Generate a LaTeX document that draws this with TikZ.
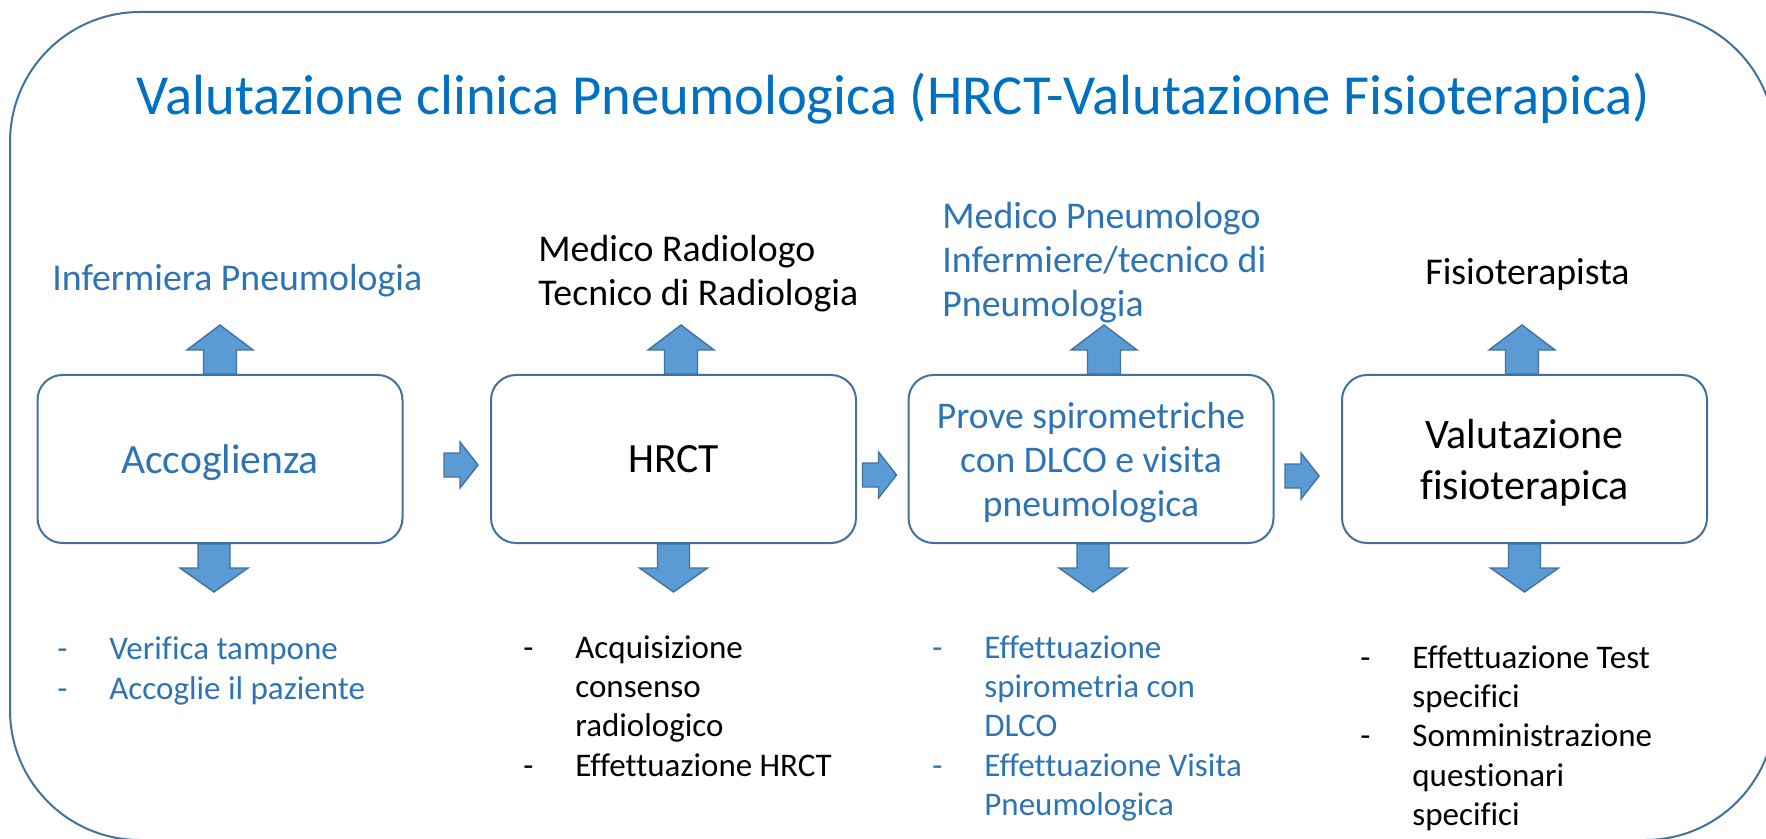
\documentclass[tikz,border=0pt]{standalone}
\usepackage{fontspec}
\setmainfont{Carlito}[Ligatures={NoCommon}]
\usetikzlibrary{calc}
\definecolor{frameC}{HTML}{41719C}
\definecolor{arrowF}{HTML}{5B9BD5}
\definecolor{titleC}{HTML}{0070C0}
\definecolor{txtB}{HTML}{2E74B5}
\newcommand\itm{\makebox[26pt][l]{-}}
\newcommand\cnt{\hspace*{26pt}}
\newcommand\blkup[1]{\draw[blk] #1 ++(-16.5,0) -- ++(0,-24) -- ++(-16.5,0) -- ++(33,-25) -- ++(33,25) -- ++(-16.5,0) -- ++(0,24) -- cycle;}
\newcommand\blkdown[1]{\draw[blk] #1 ++(-16,0) -- ++(0,24) -- ++(-18,0) -- ++(34,24) -- ++(34,-24) -- ++(-18,0) -- ++(0,-24) -- cycle;}
\newcommand\blkright[1]{\draw[blk] #1 -- ++(-18,-23) -- ++(0,11) -- ++(-16,0) -- ++(0,24) -- ++(16,0) -- ++(0,11) -- cycle;}
\begin{document}
\begin{tikzpicture}[x=0.5pt,y=-0.5pt,
  box/.style={draw=frameC, line width=1pt, rounded corners=12.5pt, minimum width=182.5pt, minimum height=84pt, inner sep=0pt, align=center, fill=white, text depth=0pt},
  blk/.style={draw=frameC, fill=arrowF, line width=0.7pt, line join=miter},
  lbl/.style={anchor=base west, inner sep=0pt, align=left, font=\fontsize{18.9}{22}\selectfont},
  lst/.style={anchor=base west, inner sep=0pt, text width=200pt, align=flush left, font=\fontsize{16.5}{19.7}\selectfont},
]
\useasboundingbox (0,0) rectangle (1766,839);
\clip (0,0) rectangle (1766,839);
\draw[frameC, line width=1pt, rounded corners=65pt] (10,12) rectangle (1775,840);

\node[anchor=base, text=titleC, font=\fontsize{28.3}{34}\selectfont, inner sep=0pt] (title) at (893.5,115) {Valutazione clinica Pneumologica (HRCT-Valutazione Fisioterapica)};

\node[box, text=txtB, font=\fontsize{20.8}{25}\selectfont] (b1) at (220,459) {Accoglienza};
\node[box, font=\fontsize{20.8}{25}\selectfont] (b2) at (673.5,459) {HRCT};
\node[box, text=txtB, font=\fontsize{18.8}{22}\selectfont] (b3) at (1091,459) {Prove spirometriche\\con DLCO e visita\\pneumologica};
\node[box, font=\fontsize{21}{25.5}\selectfont] (b4) at (1524.5,459) {Valutazione\\fisioterapica};

\blkup{($(b1.north)+(0,0)$)}
\blkup{($(b2.north)+(7.5,0)$)}
\blkup{($(b3.north)+(13,0)$)}
\blkup{($(b4.north)+(-2.5,0)$)}
\blkdown{($(b1.south)+(-6,0)$)}
\blkdown{($(b2.south)+(0,0)$)}
\blkdown{($(b3.south)+(2,0)$)}
\blkdown{($(b4.south)+(0,0)$)}
\blkright{($(b2.west)+(-12,6)$)}
\blkright{($(b3.west)+(-11,16)$)}
\blkright{($(b4.west)+(-22,17)$)}

\node[lbl, text=txtB] (l1) at (52,291) {Infermiera Pneumologia};
\node[lbl] (l2) at (538,306) {Medico Radiologo\\Tecnico di Radiologia};
\node[lbl, text=txtB] (l3) at (942,317) {Medico Pneumologo\\Infermiere/tecnico di\\Pneumologia};
\node[lbl] (l4) at (1425,285) {Fisioterapista};

\node[lst, text=txtB, font=\fontsize{16.5}{20}\selectfont] (d1) at (57,659) {\itm Verifica tampone\\\itm Accoglie il paziente};
\node[lst] (d2) at (523,658) {\itm Acquisizione\\\cnt consenso\\\cnt radiologico\\\itm Effettuazione HRCT};
\node[lst, text=txtB] (d3) at (932,658) {\itm Effettuazione\\\cnt spirometria con\\\cnt DLCO\\\itm Effettuazione Visita\\\cnt Pneumologica};
\node[lst] (d4) at (1360,668) {\itm Effettuazione Test\\\cnt specifici\\\itm Somministrazione\\\cnt questionari\\\cnt specifici};
\end{tikzpicture}
\end{document}
